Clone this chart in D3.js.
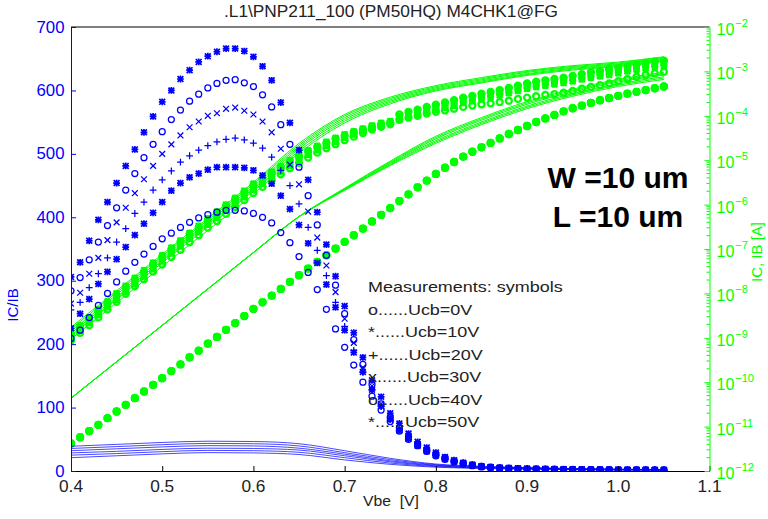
<!DOCTYPE html>
<html><head><meta charset="utf-8">
<script src="https://cdn.jsdelivr.net/npm/d3@7"></script>
<style>
body{margin:0;background:#fff}
svg{display:block}
text{font-family:"Liberation Sans",Arial,Helvetica,sans-serif;white-space:pre}
</style>
</head><body>
<svg id="c" width="768" height="519"></svg>
<script>
// ---------------- data ----------------
const vbe = [0.40,0.41,0.42,0.43,0.44,0.45,0.46,0.47,0.48,0.49,0.50,0.51,0.52,0.53,0.54,0.55,0.56,0.57,0.58,0.59,
  0.60,0.61,0.62,0.63,0.64,0.65,0.66,0.67,0.68,0.69,0.70,0.71,0.72,0.73,0.74,0.75,0.76,0.77,0.78,0.79,
  0.80,0.81,0.82,0.83,0.84,0.85,0.86,0.87,0.88,0.89,0.90,0.91,0.92,0.93,0.94,0.95,0.96,0.97,0.98,0.99,
  1.00,1.01,1.02,1.03,1.04,1.05];

// measured IC/IB (left axis)
const beta0V  = [209,222,242,261,280,298,315,329,342,354,366,375,384,392,399,404,408,411,411,410,406,400,391,376,360,338,313,286,255,224,195,167,140,118,96,78,63,50,40,31,24,18.5,14.2,11,8.4,6.5,5.3,4.5,3.9,3.4,3.0,2.7,2.5,2.3,2.1,2.0,1.9,1.8,1.7,1.6,1.5,1.4,1.4,1.3,1.3,1.2];
const beta10V = [225,248,271,295,314,334,353,372,390,407,424,442,454,463,469,475,479,479,479,478,474,466,453,434,413,388,359,328,294,258,222,187,156,128,102,81,64,51,40,31,25,19,14.8,11.4,8.8,6.8,5.6,4.8,4.1,3.6,3.2,2.9,2.7,2.5,2.4,2.3,2.2,2.1,2.0,1.9,1.8,1.7,1.7,1.6,1.5,1.5];
const beta20V = [254,266,289,311,336,361,382,406,424,443,459,473,487,497,506,513,519,523,525,522,517,509,495,474,450,421,384,348,308,266,228,190,156,128,102,82,65,52,41,32,25,19.5,15,11.6,9.0,6.9,5.7,4.9,4.2,3.7,3.3,3.0,2.8,2.6,2.5,2.3,2.2,2.1,2.0,1.9,1.8,1.8,1.7,1.6,1.6,1.5];
const beta30V = [264,281,311,336,364,392,415,438,460,481,500,515,529,542,551,560,564,571,573,568,562,551,534,508,483,452,409,368,324,282,240,202,163,134,106,84,67,53,42,33,26,20,15.5,12,9.3,7.1,5.8,5.0,4.3,3.8,3.4,3.1,2.9,2.7,2.5,2.4,2.3,2.2,2.1,2.0,1.9,1.8,1.7,1.7,1.6,1.6];
const beta40V = [284,305,333,361,387,415,443,469,494,515,535,554,569,583,594,604,611,616,617,612,606,593,574,546,515,479,434,388,340,293,248,207,168,136,106,85,68,54,43,34,27,21,16,12.5,9.6,7.3,6.0,5.1,4.4,3.9,3.5,3.2,3.0,2.8,2.6,2.4,2.3,2.2,2.1,2.0,1.9,1.8,1.8,1.7,1.7,1.6];
const beta50V = [306,329,363,396,424,454,481,507,534,559,582,600,618,632,645,654,661,666,666,662,653,638,616,581,549,506,459,408,357,307,260,218,179,143,117,91,75,59,46,37,29,22,17,13,10,7.5,6.2,5.3,4.6,4.1,3.7,3.4,3.1,2.9,2.7,2.5,2.4,2.3,2.2,2.1,2.0,1.9,1.8,1.8,1.7,1.7];

// measured currents, log10 of current in pA (right axis)
const ibMeas = [0.62,0.76,0.90,1.04,1.19,1.34,1.49,1.64,1.79,1.94,2.09,2.25,2.40,2.56,2.71,2.87,3.02,3.18,3.33,3.49,3.65,3.80,3.95,4.10,4.26,4.41,4.56,4.71,4.86,5.01,5.16,5.31,5.46,5.62,5.77,5.92,6.08,6.23,6.39,6.54,6.69,6.83,6.96,7.08,7.19,7.29,7.39,7.49,7.59,7.68,7.77,7.86,7.94,8.02,8.10,8.17,8.23,8.29,8.35,8.40,8.45,8.50,8.54,8.58,8.62,8.66];
const icMeas0V  = [2.94,3.11,3.28,3.46,3.64,3.81,3.99,4.16,4.32,4.49,4.65,4.82,4.98,5.15,5.31,5.48,5.63,5.79,5.94,6.10,6.26,6.40,6.54,6.68,6.82,6.94,7.06,7.17,7.27,7.36,7.45,7.53,7.61,7.69,7.75,7.81,7.91,7.96,8.00,8.05,8.09,8.12,8.16,8.20,8.23,8.26,8.28,8.31,8.34,8.38,8.41,8.44,8.47,8.49,8.52,8.56,8.61,8.65,8.69,8.73,8.78,8.83,8.88,8.92,8.96,8.99];
const icMeas10V = [2.97,3.15,3.33,3.51,3.69,3.86,4.04,4.21,4.38,4.55,4.72,4.90,5.06,5.23,5.38,5.55,5.70,5.86,6.01,6.17,6.33,6.47,6.61,6.74,6.88,7.00,7.12,7.23,7.33,7.42,7.51,7.58,7.65,7.73,7.78,7.83,7.91,7.97,8.02,8.08,8.13,8.18,8.23,8.29,8.33,8.38,8.42,8.46,8.51,8.56,8.61,8.65,8.68,8.71,8.74,8.78,8.82,8.86,8.89,8.92,8.96,9.00,9.04,9.07,9.10,9.12];
const icMeas20V = [3.03,3.19,3.36,3.53,3.72,3.90,4.07,4.25,4.42,4.59,4.75,4.93,5.09,5.26,5.41,5.58,5.74,5.90,6.05,6.21,6.36,6.51,6.65,6.78,6.91,7.03,7.14,7.25,7.35,7.44,7.52,7.59,7.65,7.73,7.78,7.83,7.94,8.00,8.05,8.11,8.16,8.21,8.26,8.32,8.36,8.41,8.45,8.49,8.54,8.59,8.64,8.68,8.71,8.74,8.77,8.81,8.85,8.89,8.92,8.95,8.99,9.03,9.07,9.10,9.13,9.15];
const icMeas30V = [3.04,3.21,3.39,3.57,3.75,3.93,4.11,4.28,4.45,4.62,4.79,4.96,5.12,5.29,5.45,5.62,5.77,5.94,6.09,6.24,6.40,6.54,6.68,6.81,6.94,7.07,7.17,7.28,7.37,7.46,7.54,7.62,7.67,7.75,7.80,7.84,7.97,8.03,8.08,8.14,8.19,8.24,8.29,8.35,8.39,8.44,8.48,8.52,8.57,8.62,8.67,8.71,8.74,8.77,8.80,8.84,8.88,8.92,8.95,8.98,9.02,9.06,9.10,9.13,9.16,9.18];
const icMeas40V = [3.07,3.24,3.42,3.60,3.78,3.96,4.14,4.31,4.48,4.65,4.82,4.99,5.16,5.33,5.48,5.65,5.81,5.97,6.12,6.28,6.43,6.57,6.71,6.84,6.97,7.09,7.20,7.30,7.39,7.48,7.55,7.63,7.69,7.75,7.80,7.85,8.03,8.09,8.14,8.20,8.25,8.30,8.35,8.41,8.45,8.50,8.54,8.58,8.63,8.68,8.73,8.77,8.80,8.83,8.86,8.90,8.94,8.98,9.01,9.04,9.08,9.12,9.16,9.19,9.22,9.24];
const icMeas50V = [3.11,3.28,3.46,3.64,3.82,4.00,4.17,4.35,4.52,4.69,4.86,5.03,5.19,5.36,5.52,5.69,5.84,6.00,6.15,6.31,6.47,6.61,6.74,6.86,7.00,7.11,7.22,7.32,7.41,7.50,7.58,7.65,7.71,7.78,7.84,7.88,8.00,8.06,8.11,8.17,8.22,8.27,8.32,8.38,8.42,8.47,8.51,8.55,8.60,8.65,8.70,8.74,8.77,8.80,8.83,8.87,8.91,8.95,8.98,9.01,9.05,9.09,9.13,9.16,9.19,9.21];

// simulation (lines)
const vbeSim = [0.40,0.45,0.50,0.55,0.60,0.65,0.70,0.75,0.80,0.85,0.90,0.95,1.00,1.05];
const betaSim0V  = [21,24,27,29,28.5,26,17.5,10.5,6,4,3,2.2,1.7,1.3];
const betaSim10V = [25,27.5,30.5,32.5,32,29.5,21,12.5,7,4.7,3.4,2.5,1.9,1.5];
const betaSim20V = [28.5,31,34,36,35.5,33,24,14.5,8,5.4,3.9,2.9,2.2,1.7];
const betaSim30V = [32,35,38,40,39.5,36,26.5,16,9,6,4.4,3.2,2.4,1.9];
const betaSim40V = [35.5,38.5,41.5,43.5,43,39.5,29,18,10,6.8,5,3.6,2.7,2.1];
const betaSim50V = [39,42,45,47,46.5,43,32,20,11,7.5,5.5,4,3,2.3];
const icSim0V  = [2.97,3.79,4.61,5.42,6.23,7.16,7.84,8.27,8.56,8.74,8.91,9.03,9.11,9.23];
const icSim10V = [3.05,3.87,4.69,5.50,6.31,7.21,7.88,8.30,8.58,8.76,8.93,9.05,9.13,9.25];
const icSim20V = [3.10,3.92,4.74,5.55,6.36,7.26,7.92,8.33,8.605,8.785,8.95,9.07,9.15,9.27];
const icSim30V = [3.15,3.97,4.79,5.60,6.41,7.30,7.96,8.36,8.63,8.81,8.98,9.09,9.17,9.29];
const icSim40V = [3.20,4.02,4.84,5.65,6.46,7.34,8.00,8.39,8.655,8.835,9.00,9.11,9.19,9.31];
const icSim50V = [3.24,4.06,4.88,5.69,6.50,7.38,8.03,8.42,8.68,8.86,9.02,9.13,9.21,9.33];
const ibSim0V  = [1.64,2.46,3.28,4.10,4.92,5.73,6.37,6.98,7.54,7.96,8.32,8.60,8.82,8.98];
const ibSim10V = [1.64,2.46,3.28,4.10,4.92,5.73,6.36,6.96,7.51,7.93,8.29,8.57,8.79,8.95];
const ibSim20V = [1.64,2.46,3.28,4.10,4.92,5.73,6.35,6.94,7.48,7.90,8.26,8.54,8.76,8.92];
const ibSim30V = [1.64,2.46,3.28,4.10,4.92,5.73,6.34,6.92,7.44,7.86,8.22,8.50,8.72,8.88];
const ibSim40V = [1.64,2.46,3.28,4.10,4.92,5.73,6.33,6.90,7.41,7.83,8.19,8.47,8.69,8.85];
const ibSim50V = [1.64,2.46,3.28,4.10,4.92,5.73,6.32,6.88,7.38,7.80,8.16,8.44,8.66,8.82];

const ucbLabels = ["0V","10V","20V","30V","40V","50V"];
const symbols   = ["o","*","+","x","o","*"];
const xTicks = [0.4,0.5,0.6,0.7,0.8,0.9,1.0,1.1];
const yTicksLeft = [0,100,200,300,400,500,600,700];
const expTicks = [-12,-11,-10,-9,-8,-7,-6,-5,-4,-3,-2];
const title = ".L1\\PNP211_100 (PM50HQ) M4CHK1@FG";
const legendTitle = "Measurements: symbols";
const legendRows = ["o......Ucb=0V","*......Ucb=10V","+......Ucb=20V","x......Ucb=30V","o......Ucb=40V","*......Ucb=50V"];
const geomText = ["W =10 um","L =10 um"];

const series = ucbLabels.map((u,k)=>({
  ucb:u, sym:symbols[k],
  beta:[beta0V,beta10V,beta20V,beta30V,beta40V,beta50V][k],
  icMeas:[icMeas0V,icMeas10V,icMeas20V,icMeas30V,icMeas40V,icMeas50V][k],
  betaSim:[betaSim0V,betaSim10V,betaSim20V,betaSim30V,betaSim40V,betaSim50V][k],
  icSim:[icSim0V,icSim10V,icSim20V,icSim30V,icSim40V,icSim50V][k],
  ibSim:[ibSim0V,ibSim10V,ibSim20V,ibSim30V,ibSim40V,ibSim50V][k]
}));

// ---------------- drawing ----------------
const BLUE="#0000ff", GREEN="#00ff00";
const L=71, R=709.5, T=27, B=471;
const svg=d3.select("#c");
const x=d3.scaleLinear().domain([0.4,1.1]).range([L,R]);
const yL=d3.scaleLinear().domain([0,700]).range([B,T]);
const yR=d3.scaleLog().domain([1e-12,1e-2]).range([B,T]);
const pA = v => Math.pow(10,v)*1e-12;   // log10(pA) -> A

const S=3.4, K=2.9, RO=3.0;
const glyphPath = {
  "+":`M${-S},0H${S}M0,${-S}V${S}`,
  "x":`M${-K},${-K}L${K},${K}M${-K},${K}L${K},${-K}`,
  "*":`M${-S},0H${S}M0,${-S}V${S}M${-K},${-K}L${K},${K}M${-K},${K}L${K},${-K}`,
  "o":`M${RO},0A${RO},${RO} 0 1,1 ${-RO},0A${RO},${RO} 0 1,1 ${RO},0`
};

const plot=svg.append("g");
plot.append("defs").append("clipPath").attr("id","clip")
  .append("rect").attr("x",L).attr("y",T-2).attr("width",R-L).attr("height",B-T+2);
const gp=plot.append("g").attr("clip-path","url(#clip)");

const line=d3.line().curve(d3.curveMonotoneX);

// green simulation lines
series.forEach(s=>{
  gp.append("path").attr("fill","none").attr("stroke",GREEN).attr("stroke-width",1)
    .attr("d",line(vbeSim.map((v,i)=>[x(v),yR(pA(s.icSim[i]))])));
  gp.append("path").attr("fill","none").attr("stroke",GREEN).attr("stroke-width",1)
    .attr("d",line(vbeSim.map((v,i)=>[x(v),yR(pA(s.ibSim[i]))])));
});
// green measured markers
series.forEach(s=>{
  gp.append("g").selectAll("path").data(vbe).join("path")
    .attr("transform",(v,i)=>`translate(${x(v)},${yR(pA(s.icMeas[i]))})`)
    .attr("d",glyphPath[s.sym]).attr("fill","none").attr("stroke",GREEN).attr("stroke-width",2.3);
  gp.append("g").selectAll("path").data(vbe).join("path")
    .attr("transform",(v,i)=>`translate(${x(v)},${yR(pA(ibMeas[i]))})`)
    .attr("d",glyphPath[s.sym]).attr("fill","none").attr("stroke",GREEN).attr("stroke-width",2.3);
});
// blue simulation lines
series.forEach(s=>{
  gp.append("path").attr("fill","none").attr("stroke",BLUE).attr("stroke-width",0.9).attr("stroke-opacity",0.8)
    .attr("d",line(vbeSim.map((v,i)=>[x(v),yL(s.betaSim[i])])));
});
// blue measured markers
series.forEach(s=>{
  gp.append("g").selectAll("path").data(vbe).join("path")
    .attr("transform",(v,i)=>`translate(${x(v)},${yL(s.beta[i])})`)
    .attr("d",glyphPath[s.sym]).attr("fill","none").attr("stroke",BLUE)
    .attr("stroke-width",s.sym==="*"?1.7:1.25);
});

// ---------------- axes ----------------
function txt(g,xp,yp,str,o={}){
  const t=g.append("text").attr("transform",`translate(${xp},${yp})${o.rot?` rotate(${o.rot})`:""} scale(${o.sx||1},1)`)
    .attr("text-anchor",o.anchor||"start").attr("font-size",o.size||16)
    .attr("fill",o.fill||"#000").attr("font-weight",o.weight||"normal").text(str);
  return t;
}
// frame
svg.append("line").attr("x1",L).attr("x2",R).attr("y1",T).attr("y2",T).attr("stroke","#000");
const ax=svg.append("g").attr("transform",`translate(0,${B})`)
  .call(d3.axisBottom(x).tickValues(xTicks).tickSize(-5).tickSizeOuter(0).tickFormat(()=>""));
ax.select(".domain").attr("stroke","#000");
ax.selectAll(".tick line").attr("stroke","#000");
xTicks.forEach(t=>txt(svg,x(t),492,d3.format(".1f")(t),{anchor:"middle",fill:"#222",size:16,sx:1.08}));

const ayl=svg.append("g").attr("transform",`translate(${L},0)`)
  .call(d3.axisLeft(yL).tickValues(yTicksLeft).tickSize(-5).tickSizeOuter(0).tickFormat(()=>""));
ayl.select(".domain").attr("stroke",BLUE);
ayl.selectAll(".tick line").attr("stroke",BLUE);
yTicksLeft.forEach(t=>txt(svg,64.5,yL(t)+5.5,String(t),{anchor:"end",fill:BLUE,size:16,sx:1.05}));

const ayr=svg.append("g").attr("transform",`translate(${R},0)`)
  .call(d3.axisRight(yR).tickValues(expTicks.map(e=>Math.pow(10,e))).tickSize(-5).tickSizeOuter(0).tickFormat(()=>""));
ayr.select(".domain").attr("stroke",GREEN);
ayr.selectAll(".tick line").attr("stroke",GREEN);
// minor log ticks
const minor=[];
expTicks.slice(0,-1).forEach(e=>{for(let m=2;m<=9;m++) minor.push(m*Math.pow(10,e));});
svg.append("g").selectAll("line").data(minor).join("line")
  .attr("x1",R).attr("x2",R-3).attr("y1",d=>yR(d)).attr("y2",d=>yR(d)).attr("stroke",GREEN);
expTicks.forEach(e=>{
  const yy=yR(Math.pow(10,e));
  const t=svg.append("text").attr("transform",`translate(716.5,${yy+8})`).attr("font-size",16).attr("fill",GREEN);
  t.append("tspan").text("10");
  t.append("tspan").attr("font-size",11).attr("dy",-8).attr("dx",1).text("\u2212"+Math.abs(e));
});

// labels
txt(svg,391,17,title,{anchor:"middle",size:16,fill:"#222",sx:1.08});
txt(svg,391,506,"Vbe\u00a0\u00a0[V]",{anchor:"middle",size:15,fill:"#222",sx:1.05});
txt(svg,18,305,"IC/IB",{anchor:"middle",size:15,fill:BLUE,rot:-90});
txt(svg,762,252,"IC, IB [A]",{anchor:"middle",size:15,fill:GREEN,rot:-90});

// legend text
txt(svg,368,292,legendTitle,{size:15.5,fill:"#222",sx:1.16});
legendRows.forEach((r,i)=>txt(svg,368,315+i*22.4,r,{size:15.5,fill:"#222",sx:1.16}));
// W/L
txt(svg,618,188,geomText[0],{anchor:"middle",size:30,weight:"bold"});
txt(svg,618,227,geomText[1],{anchor:"middle",size:30,weight:"bold"});
</script>
</body></html>
